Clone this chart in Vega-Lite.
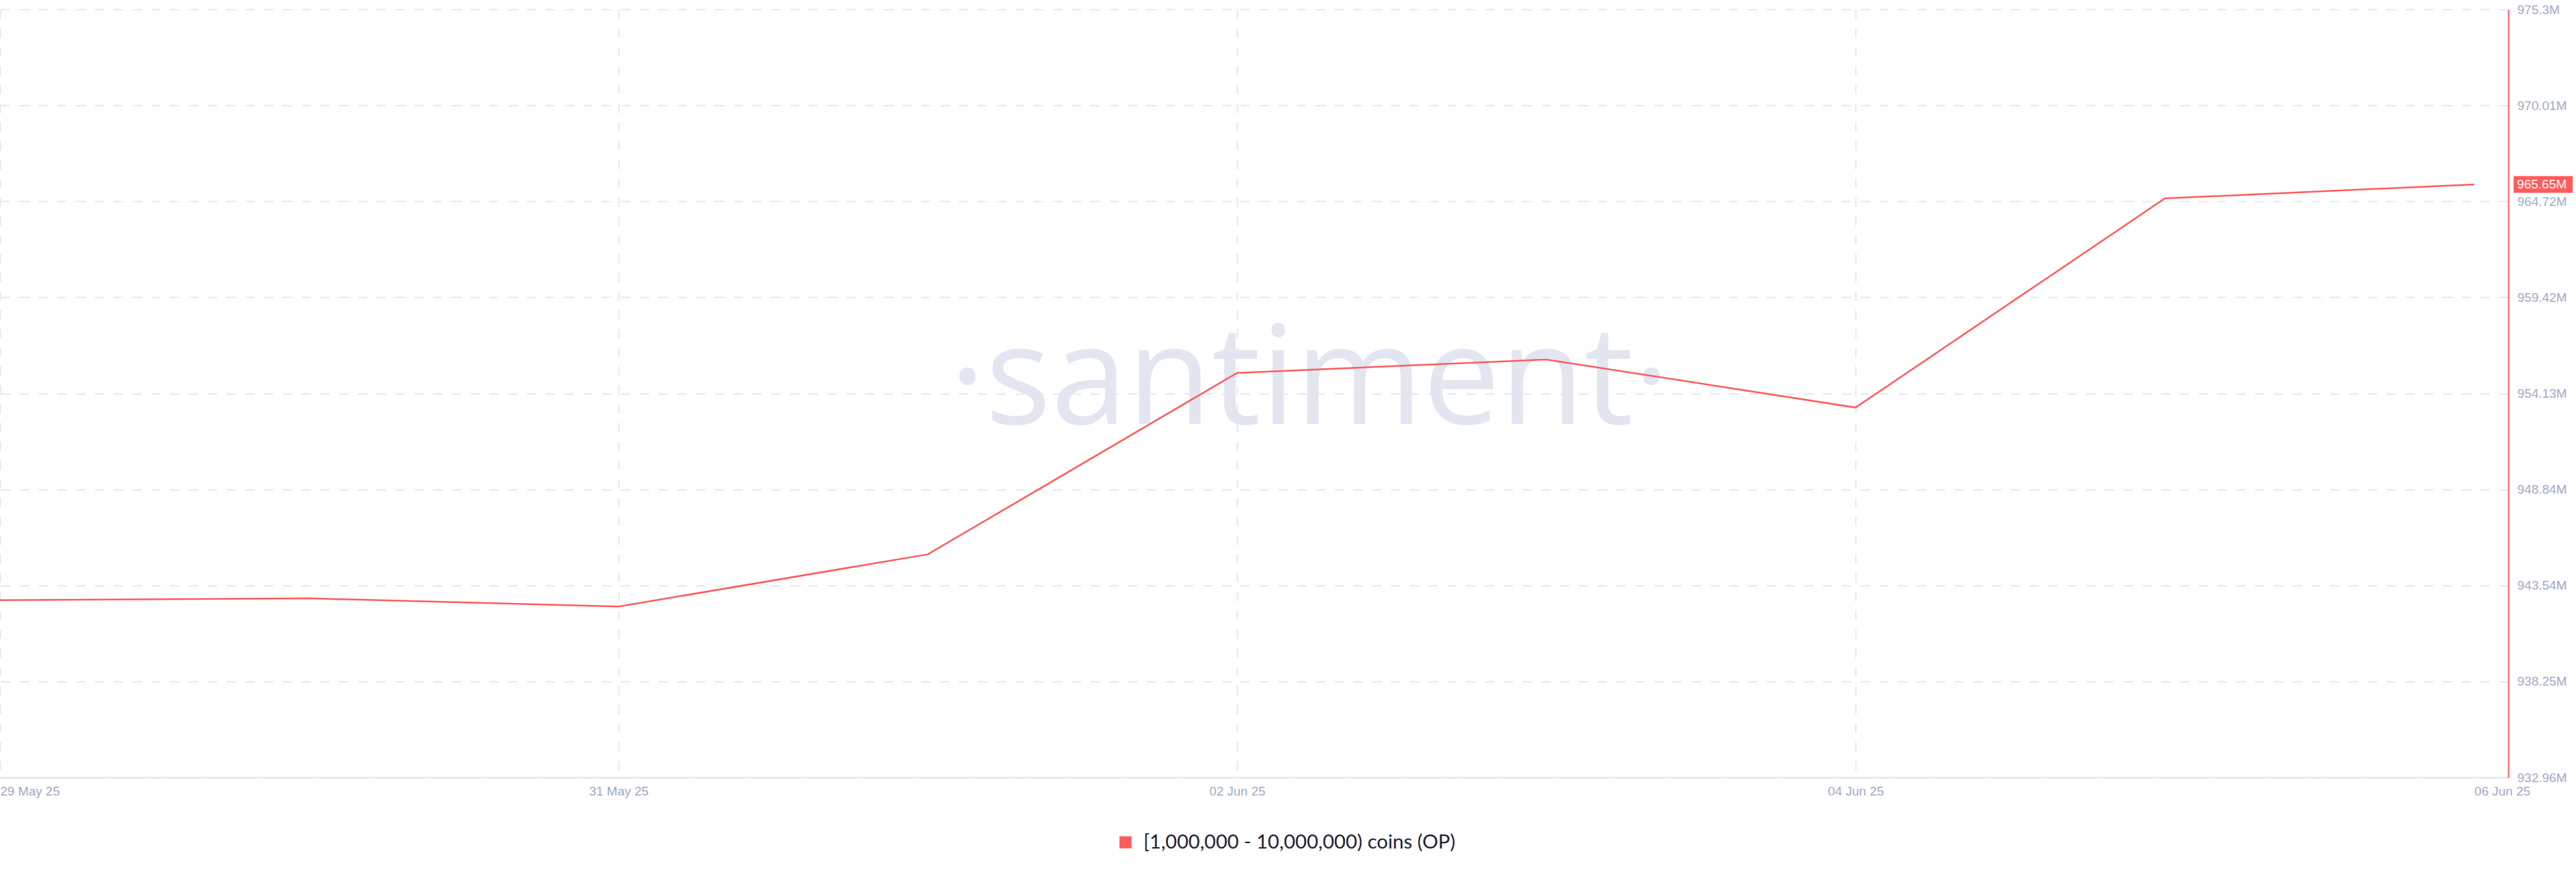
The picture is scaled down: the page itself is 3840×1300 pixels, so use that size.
{
  "$schema": "https://vega.github.io/schema/vega-lite/v6.json",
  "width": 3739,
  "height": 1145,
  "autosize": {"type": "none"},
  "padding": {"left": 0, "top": 14, "right": 101, "bottom": 141},
  "background": "#ffffff",
  "config": {"view": {"stroke": null}, "font": "Liberation Sans"},
  "data": {
    "values": [
      {"date": "2025-05-29", "value": 942730000, "series": "[1,000,000 - 10,000,000) coins (OP)"},
      {"date": "2025-05-30", "value": 942830000, "series": "[1,000,000 - 10,000,000) coins (OP)"},
      {"date": "2025-05-31", "value": 942380000, "series": "[1,000,000 - 10,000,000) coins (OP)"},
      {"date": "2025-06-01", "value": 945260000, "series": "[1,000,000 - 10,000,000) coins (OP)"},
      {"date": "2025-06-02", "value": 955260000, "series": "[1,000,000 - 10,000,000) coins (OP)"},
      {"date": "2025-06-03", "value": 956000000, "series": "[1,000,000 - 10,000,000) coins (OP)"},
      {"date": "2025-06-04", "value": 953350000, "series": "[1,000,000 - 10,000,000) coins (OP)"},
      {"date": "2025-06-05", "value": 964880000, "series": "[1,000,000 - 10,000,000) coins (OP)"},
      {"date": "2025-06-06", "value": 965650000, "series": "[1,000,000 - 10,000,000) coins (OP)"}
    ]
  },
  "encoding": {
    "x": {
      "field": "date",
      "type": "temporal",
      "scale": {
        "type": "utc",
        "domain": [
          {"year": 2025, "month": 5, "date": 29, "utc": true},
          {"year": 2025, "month": 6, "date": 6, "hours": 2, "minutes": 39, "utc": true}
        ]
      },
      "axis": {
        "title": null,
        "labelExpr": "utcFormat(datum.value, '%d %b %y')",
        "values": [
          {"year": 2025, "month": 5, "date": 29, "utc": true},
          {"year": 2025, "month": 5, "date": 31, "utc": true},
          {"year": 2025, "month": 6, "date": 2, "utc": true},
          {"year": 2025, "month": 6, "date": 4, "utc": true},
          {"year": 2025, "month": 6, "date": 6, "utc": true}
        ],
        "labelColor": "#9faac4",
        "labelFont": "Liberation Sans",
        "labelFontSize": 19,
        "labelPadding": 11,
        "labelFlush": false,
        "labelOverlap": false,
        "labelAlign": {"expr": "datum.value < utc(2025,4,30) || datum.value > utc(2025,5,5) ? 'left' : 'center'"},
        "ticks": false,
        "tickSize": 0,
        "domainColor": "#e3e6ef",
        "domainWidth": 2,
        "grid": true,
        "gridColor": {"condition": {"test": "datum.value > utc(2025,5,5)", "value": "transparent"}, "value": "#e4e7f0"},
        "gridDash": [14, 14],
        "gridWidth": 2
      }
    },
    "y": {
      "field": "value",
      "type": "quantitative",
      "scale": {"domain": [932960000, 975300000], "zero": false, "nice": false},
      "axis": {
        "title": null,
        "orient": "right",
        "values": [932960000, 938250000, 943540000, 948840000, 954130000, 959420000, 964720000, 970010000, 975300000],
        "format": ".5~s",
        "labelColor": "#9faac4",
        "labelFont": "Liberation Sans",
        "labelFontSize": 19,
        "labelPadding": 13,
        "labelBaseline": "middle",
        "ticks": false,
        "tickSize": 0,
        "domainColor": "#ff5b5b",
        "domainWidth": 2,
        "grid": true,
        "gridColor": "#e4e7f0",
        "gridDash": [14, 14],
        "gridWidth": 2
      }
    }
  },
  "layer": [
    {
      "transform": [{"filter": "datum.value > 965000000"}],
      "mark": {"type": "text", "text": "·santiment·", "font": "Open Sans", "fontSize": 205, "color": "#e3e6f1", "align": "center", "baseline": "alphabetic", "x": {"expr": "scale('x', 1748842620000)"}, "y": {"expr": "scale('y', 952450000)"}},
      "encoding": {"x": null, "y": null}
    },
    {
      "mark": {"type": "line", "strokeWidth": 2.5},
      "encoding": {
        "color": {
          "field": "series",
          "type": "nominal",
          "scale": {"range": ["#ff5b5b"]},
          "legend": {
            "title": null,
            "orient": "none",
            "legendX": 1663,
            "legendY": 1227,
            "direction": "horizontal",
            "padding": 0,
            "symbolType": "square",
            "symbolSize": 324,
            "labelFont": "Lato",
            "labelFontSize": 29.5,
            "labelColor": "#1f2335",
            "labelOffset": 12,
            "labelLimit": 1000,
            "encode": {"symbols": {"update": {"fill": {"value": "#ff5b5b"}, "stroke": {"value": "#ff5b5b"}, "strokeWidth": {"value": 0}, "opacity": {"value": 1}}}}
          }
        }
      }
    },
    {
      "transform": [{"filter": "datum.value > 965000000"}],
      "mark": {"type": "point", "shape": "M-1,-0.284H1V0.284H-1Z", "size": 7744, "filled": true, "color": "#ff5b5b", "opacity": 1, "strokeWidth": 0, "xOffset": 103}
    },
    {
      "transform": [{"filter": "datum.value > 965000000"}],
      "mark": {"type": "text", "align": "left", "baseline": "middle", "dx": 64, "color": "#ffffff", "fontSize": 19, "font": "Liberation Sans"},
      "encoding": {"text": {"field": "value", "type": "quantitative", "format": ".5s"}}
    }
  ]
}
